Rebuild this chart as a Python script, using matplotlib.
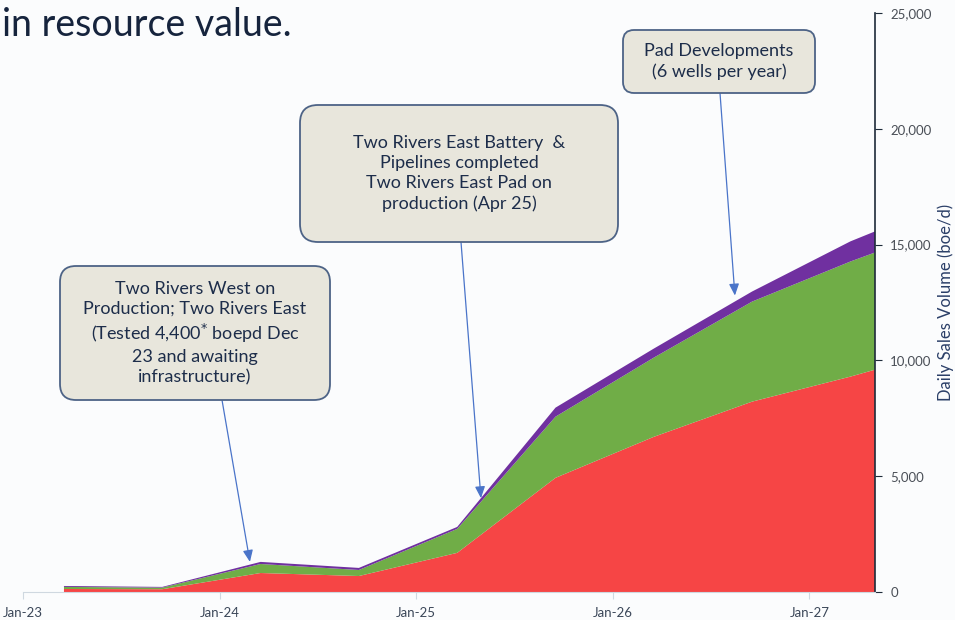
import matplotlib

matplotlib.use("Agg")
import matplotlib.pyplot as plt
from matplotlib.patches import FancyBboxPatch
from matplotlib.transforms import IdentityTransform
from matplotlib.ticker import FuncFormatter

# months since Jan-23 (semi-annual forecast points, last at axis edge)
months = [2.5, 8.5, 14.5, 20.5, 26.5, 32.5, 38.5, 44.5, 50.5, 52.0]
red = [130, 120, 820, 690, 1690, 4930, 6700, 8220, 9300, 9600]
green = [90, 70, 390, 260, 1035, 2640, 3420, 4320, 4970, 5060]
purple = [40, 30, 90, 90, 85, 390, 390, 435, 870, 910]

tick_months = [0, 12, 24, 36, 48]
tick_labels = ["Jan-23", "Jan-24", "Jan-25", "Jan-26", "Jan-27"]

notes = [
    "Two Rivers West on\nProduction; Two Rivers East\n(Tested 4,400$^{*}$ boepd Dec\n23 and awaiting\ninfrastructure)",
    "Two Rivers East Battery  &\nPipelines completed\nTwo Rivers East Pad on\nproduction (Apr 25)",
    "Pad Developments\n(6 wells per year)",
]
# arrow targets (month, boe/d)
targets = [(13.85, 1300), (27.95, 4050), (43.45, 12800)]

BG = "#fbfcfd"
INK = "#1d2d4a"
BOX = "#e8e6dc"
EDGE = "#4d6386"
ARROW = "#4a74c9"
W, H = 955, 620

plt.rcParams["font.family"] = ["Lato", "DejaVu Sans"]

fig = plt.figure(figsize=(W / 100, H / 100), dpi=100, facecolor=BG)
ax = fig.add_axes([23 / W, 1 - 592 / H, (875 - 23) / W, (592 - 13) / H])
ax.set_facecolor(BG)

ax.stackplot(months, red, green, purple,
             colors=["#f64545", "#70ad47", "#7030a0"], linewidth=0)

ax.set_xlim(0, 52)
ax.set_ylim(0, 25000)
ax.set_xticks(tick_months)
ax.set_xticklabels(tick_labels)
ax.yaxis.tick_right()
ax.yaxis.set_label_position("right")
ax.set_yticks(range(0, 25001, 5000))
ax.yaxis.set_major_formatter(FuncFormatter(lambda v, p: f"{int(v):,}"))
ax.set_ylabel("Daily Sales Volume (boe/d)", fontsize=12, color="#2b3f68",
              va="center", ha="center")
ax.yaxis.set_label_coords((946 - 23) / 852, 0.5)

for side in ("top", "left"):
    ax.spines[side].set_visible(False)
ax.spines["right"].set_color("#1e2b3a")
ax.spines["right"].set_linewidth(1.2)
ax.spines["bottom"].set_color("#cfd8e0")
ax.tick_params(axis="x", colors="#cfd8e0", labelcolor="#3a4658",
               labelsize=9.5, length=5, pad=6)
ax.tick_params(axis="y", colors="#1e2b3a", labelcolor="#4a4f57",
               labelsize=9.5, length=5, pad=6)

# headline fragment from the slide
fig.text(2 / W, 1 - 36 / H, "in resource value.", fontsize=27, color="#16243d",
         va="baseline", ha="left")

# callout boxes: (left, top, right, bottom, radius, arrow tail x) in pixels
boxes = [(60, 266, 330, 400, 16, 222), (300, 105, 618, 242, 18, 461),
         (623, 30, 815, 93, 11, 720)]

for (l, t, r, b, rad, ax_x), text, (tx, ty) in zip(boxes, notes, targets):
    patch = FancyBboxPatch((l, H - b), r - l, b - t,
                           boxstyle=f"round,pad=0,rounding_size={rad}",
                           facecolor=BOX, edgecolor=EDGE, linewidth=1.3,
                           transform=IdentityTransform())
    fig.add_artist(patch)
    fig.text((l + r) / 2 / W, 1 - (t + b) / 2 / H, text, ha="center",
             va="center", fontsize=13, color=INK, linespacing=1.3)
    ax.annotate("", xy=(tx, ty), xycoords="data",
                xytext=(ax_x, H - b), textcoords="figure pixels",
                arrowprops=dict(arrowstyle="-|>,head_length=0.7,head_width=0.3",
                                color=ARROW, lw=0.9, shrinkA=0, shrinkB=0))

fig.savefig("out.png", dpi=100, facecolor=BG)
